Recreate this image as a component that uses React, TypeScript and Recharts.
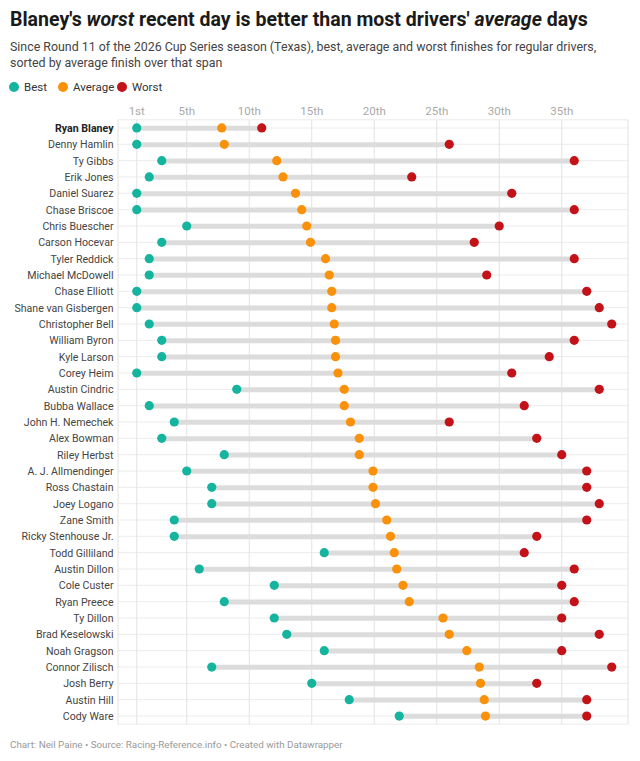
import React from 'react';
import { ComposedChart, Bar, Line, XAxis, YAxis, CartesianGrid } from 'recharts';

const drivers = [
  'Ryan Blaney', 'Denny Hamlin', 'Ty Gibbs', 'Erik Jones', 'Daniel Suarez', 'Chase Briscoe',
  'Chris Buescher', 'Carson Hocevar', 'Tyler Reddick', 'Michael McDowell', 'Chase Elliott',
  'Shane van Gisbergen', 'Christopher Bell', 'William Byron', 'Kyle Larson', 'Corey Heim',
  'Austin Cindric', 'Bubba Wallace', 'John H. Nemechek', 'Alex Bowman', 'Riley Herbst',
  'A. J. Allmendinger', 'Ross Chastain', 'Joey Logano', 'Zane Smith', 'Ricky Stenhouse Jr.',
  'Todd Gilliland', 'Austin Dillon', 'Cole Custer', 'Ryan Preece', 'Ty Dillon',
  'Brad Keselowski', 'Noah Gragson', 'Connor Zilisch', 'Josh Berry', 'Austin Hill', 'Cody Ware',
];
const bestFinish = [1, 1, 3, 2, 1, 1, 5, 3, 2, 2, 1, 1, 2, 3, 3, 1, 9, 2, 4, 3, 8, 5, 7, 7, 4, 4, 16, 6, 12, 8, 12, 13, 16, 7, 15, 18, 22];
const avgFinish = [7.8, 8.0, 12.2, 12.7, 13.7, 14.2, 14.6, 14.9, 16.1, 16.4, 16.6, 16.6, 16.8, 16.9, 16.9, 17.1, 17.6, 17.6, 18.1, 18.8, 18.8, 19.9, 19.9, 20.1, 21.0, 21.3, 21.6, 21.8, 22.3, 22.8, 25.5, 26.0, 27.4, 28.4, 28.5, 28.8, 28.9];
const worstFinish = [11, 26, 36, 23, 31, 36, 30, 28, 36, 29, 37, 38, 39, 36, 34, 31, 38, 32, 26, 33, 35, 37, 37, 38, 37, 33, 32, 36, 35, 36, 35, 38, 35, 39, 33, 37, 37];
const tickValues = [1, 5, 10, 15, 20, 25, 30, 35];
const tickLabels = ['1st', '5th', '10th', '15th', '20th', '25th', '30th', '35th'];
const highlighted = 'Ryan Blaney';

const TEAL = '#15b49e';
const ORANGE = '#fa910a';
const RED = '#c31218';
const FONT = 'Roboto, sans-serif';

const data = drivers.map((name, i) => ({
  name,
  best: bestFinish[i],
  avg: avgFinish[i],
  worst: worstFinish[i],
  range: [bestFinish[i], worstFinish[i]],
}));

const makeDot = (color: string, tag: string) => (props: any) => {
  const { cx, cy, index } = props;
  if (cx == null || cy == null) return <g key={`${tag}-${index}`} />;
  return <circle key={`${tag}-${index}`} cx={cx} cy={cy} r={4.6} fill={color} />;
};

const NameTick = (props: any) => {
  const { x, y, payload } = props;
  const bold = payload.value === highlighted;
  return (
    <text
      x={x}
      y={y}
      dy={4}
      textAnchor="end"
      fontFamily={FONT}
      fontSize={10.6}
      fontWeight={bold ? 700 : 400}
      fill={bold ? '#222' : '#444'}
    >
      {payload.value}
    </text>
  );
};

const LegendItem = ({ color, label, left }: { color: string; label: string; left: number }) => (
  <div style={{ position: 'absolute', left, top: 80, height: 14, display: 'flex', alignItems: 'center' }}>
    <span style={{ width: 10, height: 10, borderRadius: 5, background: color, display: 'inline-block' }} />
    <span style={{ marginLeft: 5, fontSize: 11.5, color: '#333', fontFamily: FONT }}>{label}</span>
  </div>
);

export default function App() {
  return (
    <div style={{ position: 'absolute', left: 0, top: 0, width: 640, height: 761, background: '#fff', fontFamily: FONT }}>
      <div style={{ position: 'absolute', left: 10, top: 10, fontSize: 19.5, lineHeight: '20px', fontWeight: 700, color: '#1a1a1a', whiteSpace: 'nowrap' }}>
        Blaney's <i>worst</i> recent day is better than most drivers' <i>average</i> days
      </div>
      <div style={{ position: 'absolute', left: 10, top: 39, fontSize: 12.4, lineHeight: '16px', color: '#444', whiteSpace: 'nowrap' }}>
        Since Round 11 of the 2026 Cup Series season (Texas), best, average and worst finishes for regular drivers,
        <br />
        sorted by average finish over that span
      </div>
      <LegendItem color={TEAL} label="Best" left={9} />
      <LegendItem color={ORANGE} label="Average" left={58} />
      <LegendItem color={RED} label="Worst" left={117} />
      <div style={{ position: 'absolute', left: 0, top: 95 }}>
        <ComposedChart
          width={640}
          height={630}
          layout="vertical"
          data={data}
          margin={{ top: 0, right: 12, bottom: 0.8, left: 0 }}
        >
          <CartesianGrid horizontal vertical={false} stroke="#ececec" />
          <CartesianGrid vertical horizontal={false} stroke="#e2e2e2" />
          <XAxis
            type="number"
            orientation="top"
            domain={[-0.5, 40.3]}
            ticks={tickValues}
            tickFormatter={(v: number) => tickLabels[tickValues.indexOf(v)]}
            allowDataOverflow
            axisLine={false}
            tickLine={false}
            tickSize={0}
            tickMargin={5}
            height={24.8}
            tick={{ fill: '#aaa', fontSize: 11.5, fontFamily: FONT }}
          />
          <YAxis
            type="category"
            dataKey="name"
            width={118}
            axisLine={false}
            tickLine={false}
            tickSize={0}
            tickMargin={4.5}
            interval={0}
            tick={<NameTick />}
          />
          <Bar dataKey="range" barSize={5} fill="#dcdcdc" isAnimationActive={false} />
          <Line dataKey="best" stroke="none" dot={makeDot(TEAL, 'b')} activeDot={false} isAnimationActive={false} />
          <Line dataKey="avg" stroke="none" dot={makeDot(ORANGE, 'a')} activeDot={false} isAnimationActive={false} />
          <Line dataKey="worst" stroke="none" dot={makeDot(RED, 'w')} activeDot={false} isAnimationActive={false} />
        </ComposedChart>
      </div>
      <div style={{ position: 'absolute', left: 10, top: 738, fontSize: 9.8, lineHeight: '14px', color: '#999', whiteSpace: 'nowrap' }}>
        Chart: Neil Paine • Source: Racing-Reference.info • Created with Datawrapper
      </div>
    </div>
  );
}
